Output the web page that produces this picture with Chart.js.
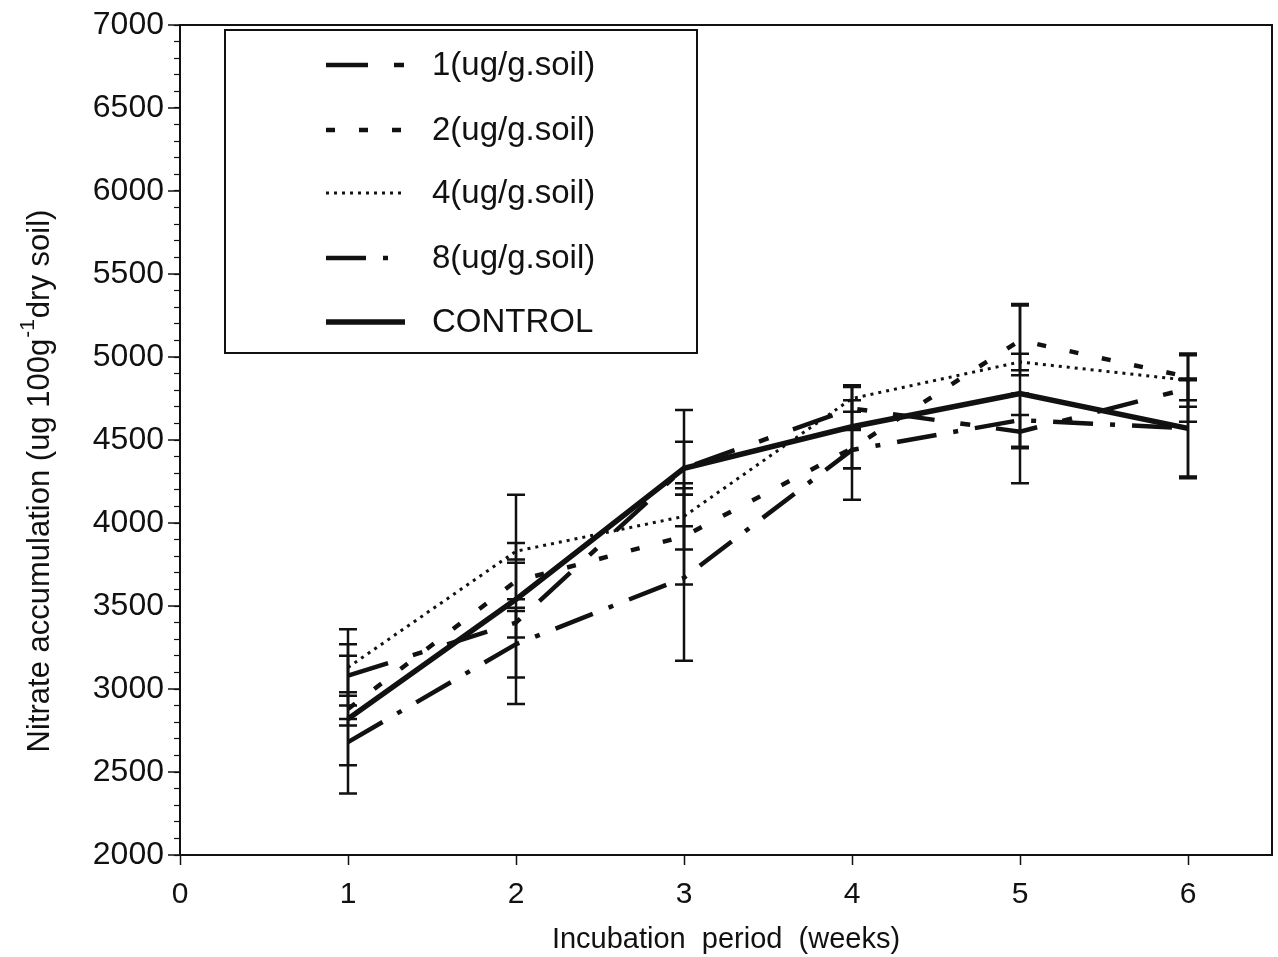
<!DOCTYPE html>
<html>
<head>
<meta charset="utf-8">
<script src="https://cdn.jsdelivr.net/npm/chart.js@4/dist/chart.umd.min.js"></script>
<style>
  html, body { margin: 0; padding: 0; background: #fff; }
  #wrap { width: 1278px; height: 957px; }
</style>
</head>
<body>
<div id="wrap"><canvas id="c" width="1278" height="957"></canvas></div>
<script>
// weeks of incubation
var weeks = [1, 2, 3, 4, 5, 6];

// nitrate values
var dose1 = [3080, 3400, 4330, 4690, 4550, 4810];
var dose2 = [2880, 3650, 3920, 4450, 5100, 4880];
var dose4 = [3130, 3830, 4040, 4750, 4970, 4860];
var dose8 = [2680, 3270, 3670, 4440, 4620, 4570];
var control = [2820, 3540, 4330, 4580, 4780, 4570];

// error bar half-lengths
var err1 = [120, 90, 160, 130, 100, 200];
var err2 = [100, 110, 290, 120, 210, 140];
var err4 = [230, 50, 200, 80, 50, 160];
var err8 = [140, 200, 500, 300, 160, 290];
var errC = [450, 630, 350, 250, 540, 300];

var labels = ["1(ug/g.soil)", "2(ug/g.soil)", "4(ug/g.soil)", "8(ug/g.soil)", "CONTROL"];
var xTicks = [0, 1, 2, 3, 4, 5, 6];

function pts(vals) {
    return vals.map(function (v, i) { return { x: weeks[i], y: v }; });
}

var ink = "#111";
var font = "'Liberation Sans', Arial, sans-serif";

var errorBars = {
    id: "errorBars",
    afterDatasetsDraw: function (chart) {
        var ctx = chart.ctx, xs = chart.scales.x, ys = chart.scales.y;
        ctx.save();
        ctx.strokeStyle = ink;
        ctx.lineWidth = 2.5;
        chart.data.datasets.forEach(function (ds) {
            ds.errors.forEach(function (e, i) {
                var px = xs.getPixelForValue(ds.data[i].x);
                var top = ys.getPixelForValue(ds.data[i].y + e);
                var bot = ys.getPixelForValue(ds.data[i].y - e);
                ctx.beginPath();
                ctx.moveTo(px, top); ctx.lineTo(px, bot);
                ctx.moveTo(px - 9, top); ctx.lineTo(px + 9, top);
                ctx.moveTo(px - 9, bot); ctx.lineTo(px + 9, bot);
                ctx.stroke();
            });
        });
        ctx.restore();
    }
};

var frameAndLegend = {
    id: "frameAndLegend",
    afterDraw: function (chart) {
        var ctx = chart.ctx, a = chart.chartArea, ys = chart.scales.y;
        ctx.save();
        ctx.strokeStyle = ink;
        ctx.lineWidth = 2;
        ctx.strokeRect(a.left, a.top, a.right - a.left, a.bottom - a.top);

        // longer major ticks on the y axis
        ctx.lineWidth = 1.5;
        ctx.beginPath();
        for (var v = 2000; v <= 7000; v += 500) {
            var py = ys.getPixelForValue(v);
            ctx.moveTo(a.left - 12, py);
            ctx.lineTo(a.left, py);
        }
        ctx.stroke();

        // y axis title with superscript
        ctx.save();
        ctx.translate(40, 481);
        ctx.rotate(-Math.PI / 2);
        ctx.fillStyle = ink;
        ctx.textBaseline = "middle";
        var big = "31px " + font, small = "21px " + font;
        var t1 = "Nitrate accumulation (ug 100g", t2 = "-1", t3 = "dry soil)";
        ctx.font = big;
        var w1 = ctx.measureText(t1).width, w3 = ctx.measureText(t3).width;
        ctx.font = small;
        var w2 = ctx.measureText(t2).width + 2;
        var x0 = -(w1 + w2 + w3) / 2;
        ctx.font = big;
        ctx.fillText(t1, x0, 0);
        ctx.font = small;
        ctx.fillText(t2, x0 + w1 + 1, -12);
        ctx.font = big;
        ctx.fillText(t3, x0 + w1 + w2, 0);
        ctx.restore();

        // legend box
        var bx = 225, by = 30, bw = 472, bh = 323;
        ctx.fillStyle = "#fff";
        ctx.fillRect(bx, by, bw, bh);
        ctx.lineWidth = 2;
        ctx.strokeStyle = ink;
        ctx.strokeRect(bx, by, bw, bh);

        var rows = [65, 130, 193, 258, 322];
        ctx.font = "33px " + font;
        ctx.textBaseline = "middle";
        chart.data.datasets.forEach(function (ds, i) {
            var y = rows[i];
            ctx.beginPath();
            ctx.setLineDash(ds.borderDash || []);
            ctx.lineWidth = ds.borderWidth;
            ctx.strokeStyle = ink;
            ctx.moveTo(326, y);
            ctx.lineTo(405, y);
            ctx.stroke();
            ctx.setLineDash([]);
            ctx.fillStyle = ink;
            ctx.fillText(ds.label, 432, y + 1);
        });
        ctx.restore();
    }
};

var base = { fill: false, pointRadius: 0, borderColor: ink, tension: 0 };

new Chart(document.getElementById("c").getContext("2d"), {
    type: "line",
    data: {
        datasets: [
            Object.assign({ label: labels[0], data: pts(dose1), errors: err1, borderWidth: 4.5, borderDash: [42, 26, 10, 26] }, base),
            Object.assign({ label: labels[1], data: pts(dose2), errors: err2, borderWidth: 4.5, borderDash: [9, 24] }, base),
            Object.assign({ label: labels[2], data: pts(dose4), errors: err4, borderWidth: 3, borderDash: [3, 5] }, base),
            Object.assign({ label: labels[3], data: pts(dose8), errors: err8, borderWidth: 4.5, borderDash: [40, 17, 5, 17] }, base),
            Object.assign({ label: labels[4], data: pts(control), errors: errC, borderWidth: 5.5, borderDash: [] }, base)
        ]
    },
    options: {
        responsive: false,
        animation: false,
        layout: { padding: { left: 0, top: 25, right: 6, bottom: 0 } },
        plugins: {
            legend: { display: false },
            tooltip: { enabled: false }
        },
        scales: {
            x: {
                type: "linear",
                min: 0,
                max: 6.5,
                afterBuildTicks: function (s) {
                    s.ticks = xTicks.map(function (v) { return { value: v }; });
                },
                afterFit: function (s) { s.height = 102; s.paddingLeft = 0; s.paddingRight = 0; },
                grid: { drawOnChartArea: false, tickLength: 10, tickColor: ink, tickWidth: 1.5 },
                border: { color: ink, width: 2 },
                ticks: {
                    color: ink,
                    padding: 12,
                    font: { family: font, size: 30 }
                },
                title: {
                    display: true,
                    text: "Incubation  period  (weeks)",
                    color: ink,
                    padding: { top: 0, bottom: 0 },
                    font: { family: font, size: 29 }
                }
            },
            y: {
                min: 2000,
                max: 7000,
                afterFit: function (s) { s.width = 180; s.paddingTop = 0; s.paddingBottom = 0; },
                grid: { drawOnChartArea: false, tickLength: 6, tickColor: ink, tickWidth: 1.2 },
                border: { color: ink, width: 2 },
                ticks: {
                    stepSize: 100,
                    autoSkip: false,
                    color: ink,
                    padding: 10,
                    font: { family: font, size: 32 },
                    callback: function (v) { return v % 500 === 0 ? v : ""; }
                }
            }
        }
    },
    plugins: [errorBars, frameAndLegend]
});
</script>
</body>
</html>
